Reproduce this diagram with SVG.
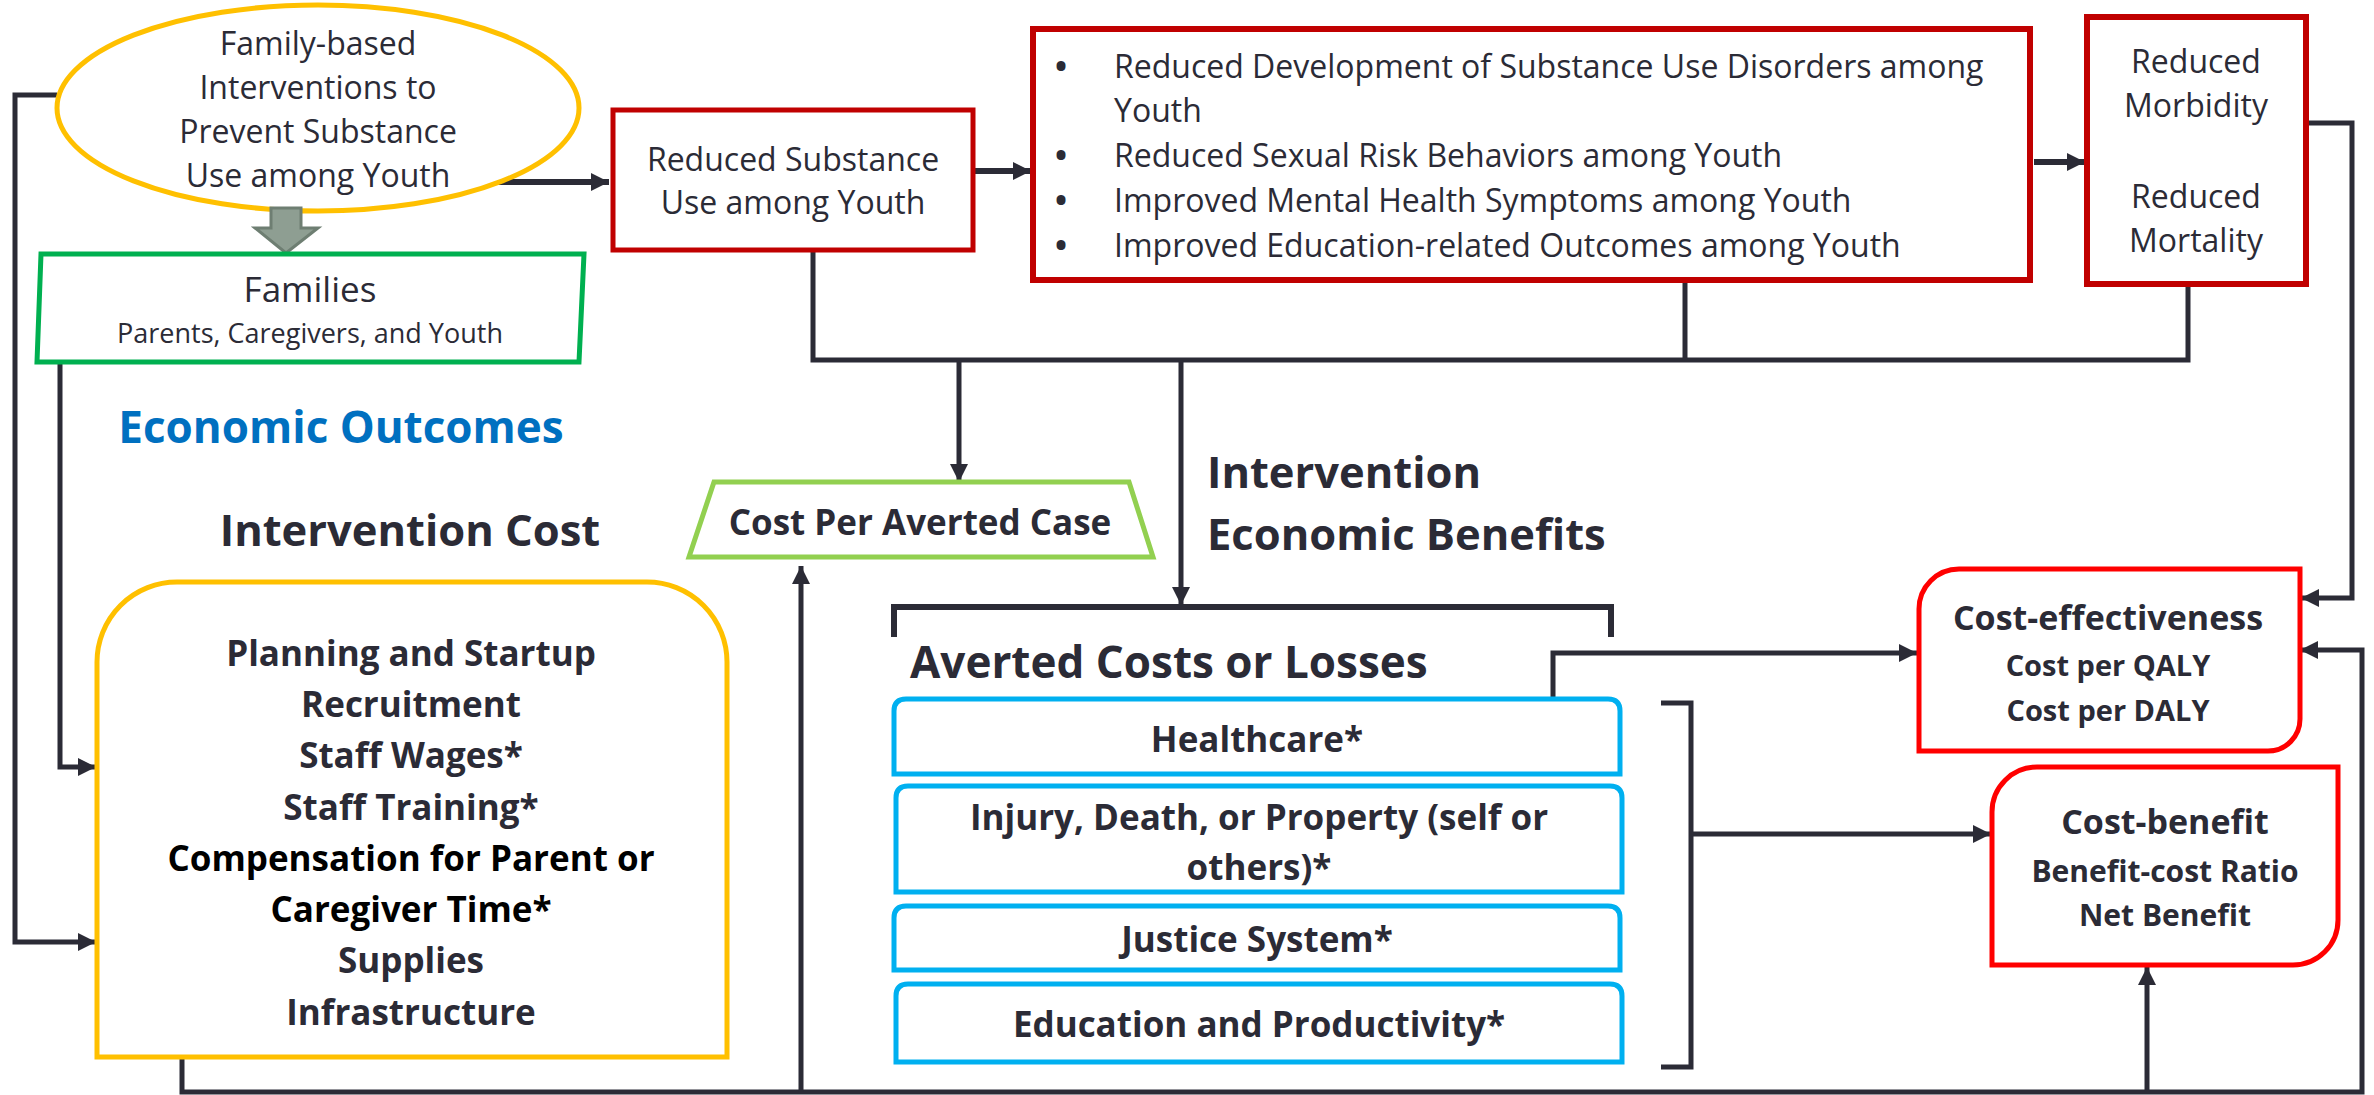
<svg xmlns="http://www.w3.org/2000/svg" width="2374" height="1095" viewBox="0 0 2374 1095">
<style>
text{font-family:"Open Sans","Noto Sans","Liberation Sans",sans-serif;fill:#2B2B36}
.r{font-size:32px}
.c{text-anchor:middle}
.b{font-weight:700}
.k{fill:#000}
.bu{font-size:32px;font-weight:700}
.ln{fill:none;stroke:#2B2B36;stroke-width:5}
.th{stroke-width:6}
</style>
<defs>
<marker id="ah" markerUnits="userSpaceOnUse" markerWidth="20" markerHeight="20" refX="18" refY="9" orient="auto">
<path d="M0,0 L18,9 L0,18 z" fill="#2B2B36"/>
</marker>
</defs>
<rect width="2374" height="1095" fill="#fff"/>

<g id="connectors">
<path class="ln th" d="M482,182 H609" marker-end="url(#ah)"/>
<path class="ln th" d="M975,171 H1031" marker-end="url(#ah)"/>
<path class="ln th" d="M2034,162 H2085" marker-end="url(#ah)"/>
<path class="ln" d="M813,250 V360 H2188 V286"/>
<path class="ln" d="M1685,281 V360"/>
<path class="ln" d="M959,360 V482" marker-end="url(#ah)"/>
<path class="ln" d="M1181,360 V605" marker-end="url(#ah)"/>
<path class="ln th" d="M894,637 V607 H1611 V637"/>
<path class="ln" d="M1553,697 V653 H1917" marker-end="url(#ah)"/>
<path class="ln" d="M1661,703 H1691 V1067 H1661"/>
<path class="ln" d="M1691,834 H1991" marker-end="url(#ah)"/>
<path class="ln" d="M2306,123 H2352 V598 H2301" marker-end="url(#ah)"/>
<path class="ln" d="M182,1057 V1092 H2362 V650 H2300" marker-end="url(#ah)"/>
<path class="ln" d="M801,1092 V566" marker-end="url(#ah)"/>
<path class="ln" d="M2147,1092 V967" marker-end="url(#ah)"/>
<path class="ln" d="M57,95 H15 V942 H96" marker-end="url(#ah)"/>
<path class="ln" d="M60,364 V767 H96" marker-end="url(#ah)"/>
</g>

<g id="intervention">
<ellipse cx="318" cy="108" rx="261" ry="103" fill="#fff" stroke="#FFC000" stroke-width="5"/>
<text class="r c" x="318" y="55">Family-based</text>
<text class="r c" x="318" y="99">Interventions to</text>
<text class="r c" x="318" y="143">Prevent Substance</text>
<text class="r c" x="318" y="187">Use among Youth</text>
</g>

<g id="block-arrow">
<polygon points="271,208 301,208 301,228 318,228 286,253 255,228 271,228" fill="#8E9E92" stroke="#6E7E72" stroke-width="3"/>
</g>

<g id="families">
<polygon points="41,254 584,254 579,362 37,362" fill="#fff" stroke="#00B050" stroke-width="5"/>
<text class="c" x="310" y="302" font-size="35">Families</text>
<text class="c" x="310" y="343" font-size="27">Parents, Caregivers, and Youth</text>
</g>

<g id="reduced-use">
<rect x="613" y="110" width="360" height="140" fill="#fff" stroke="#C00000" stroke-width="5"/>
<text class="r c" x="793" y="171">Reduced Substance</text>
<text class="r c" x="793" y="214">Use among Youth</text>
</g>

<g id="youth-outcomes">
<rect x="1033" y="29" width="997" height="251" fill="#fff" stroke="#C00000" stroke-width="6"/>
<text class="bu c" x="1061" y="78">•</text>
<text class="r" x="1114" y="78">Reduced Development of Substance Use Disorders among</text>
<text class="r" x="1114" y="122">Youth</text>
<text class="bu c" x="1061" y="167">•</text>
<text class="r" x="1114" y="167">Reduced Sexual Risk Behaviors among Youth</text>
<text class="bu c" x="1061" y="212">•</text>
<text class="r" x="1114" y="212">Improved Mental Health Symptoms among Youth</text>
<text class="bu c" x="1061" y="257">•</text>
<text class="r" x="1114" y="257">Improved Education-related Outcomes among Youth</text>
</g>

<g id="morbidity">
<rect x="2087" y="17" width="219" height="267" fill="#fff" stroke="#C00000" stroke-width="6"/>
<text class="r c" x="2196" y="73">Reduced</text>
<text class="r c" x="2196" y="117">Morbidity</text>
<text class="r c" x="2196" y="208">Reduced</text>
<text class="r c" x="2196" y="252">Mortality</text>
</g>

<g id="headings">
<text class="b c" x="341" y="443" font-size="44" style="fill:#0070C0">Economic Outcomes</text>
<text class="b c" x="410" y="546" font-size="43.5">Intervention Cost</text>
<text class="b" x="1207" y="488" font-size="43.5">Intervention</text>
<text class="b" x="1207" y="550" font-size="43.5">Economic Benefits</text>
<text class="b" x="910" y="678" font-size="44">Averted Costs or Losses</text>
</g>

<g id="cost-per-case">
<polygon points="714,482 1129,482 1153,557 689,557" fill="#fff" stroke="#92D050" stroke-width="5"/>
<text class="b c" x="920" y="535" font-size="35">Cost Per Averted Case</text>
</g>

<g id="intervention-cost">
<path d="M97,1057 V662 A80,80 0 0 1 177,582 H647 A80,80 0 0 1 727,662 V1057 Z" fill="#fff" stroke="#FFC000" stroke-width="5"/>
<text class="b c" x="411" y="666" font-size="35">Planning and Startup</text>
<text class="b c" x="411" y="717" font-size="35">Recruitment</text>
<text class="b c" x="411" y="768" font-size="35">Staff Wages*</text>
<text class="b c" x="411" y="820" font-size="35">Staff Training*</text>
<text class="b c k" x="411" y="871" font-size="35">Compensation for Parent or</text>
<text class="b c k" x="411" y="922" font-size="35">Caregiver Time*</text>
<text class="b c" x="411" y="973" font-size="35">Supplies</text>
<text class="b c" x="411" y="1025" font-size="35">Infrastructure</text>
</g>

<g id="healthcare">
<path d="M894,774 V711 Q894,699 906,699 H1608 Q1620,699 1620,711 V774 Z" fill="#fff" stroke="#00B0F0" stroke-width="5"/>
<text class="b c" x="1257" y="752" font-size="35">Healthcare*</text>
</g>
<g id="injury">
<path d="M896,892 V798 Q896,786 908,786 H1610 Q1622,786 1622,798 V892 Z" fill="#fff" stroke="#00B0F0" stroke-width="5"/>
<text class="b c" x="1259" y="830" font-size="35">Injury, Death, or Property (self or</text>
<text class="b c" x="1259" y="880" font-size="35">others)*</text>
</g>
<g id="justice">
<path d="M894,970 V918 Q894,906 906,906 H1608 Q1620,906 1620,918 V970 Z" fill="#fff" stroke="#00B0F0" stroke-width="5"/>
<text class="b c" x="1257" y="952" font-size="35">Justice System*</text>
</g>
<g id="education">
<path d="M896,1062 V996 Q896,984 908,984 H1610 Q1622,984 1622,996 V1062 Z" fill="#fff" stroke="#00B0F0" stroke-width="5"/>
<text class="b c" x="1259" y="1037" font-size="35">Education and Productivity*</text>
</g>

<g id="cost-effectiveness">
<path d="M1919,751 V609 A40,40 0 0 1 1959,569 H2300 V719 A32,32 0 0 1 2268,751 Z" fill="#fff" stroke="#FF0000" stroke-width="5"/>
<text class="b c" x="2108" y="630" font-size="34">Cost-effectiveness</text>
<text class="b c" x="2108" y="676" font-size="29">Cost per QALY</text>
<text class="b c" x="2108" y="721" font-size="29">Cost per DALY</text>
</g>

<g id="cost-benefit">
<path d="M1992,965 V812 A45,45 0 0 1 2037,767 H2338 V920 A45,45 0 0 1 2293,965 Z" fill="#fff" stroke="#FF0000" stroke-width="5"/>
<text class="b c" x="2165" y="834" font-size="34">Cost-benefit</text>
<text class="b c" x="2165" y="882" font-size="30">Benefit-cost Ratio</text>
<text class="b c" x="2165" y="926" font-size="30">Net Benefit</text>
</g>
</svg>
